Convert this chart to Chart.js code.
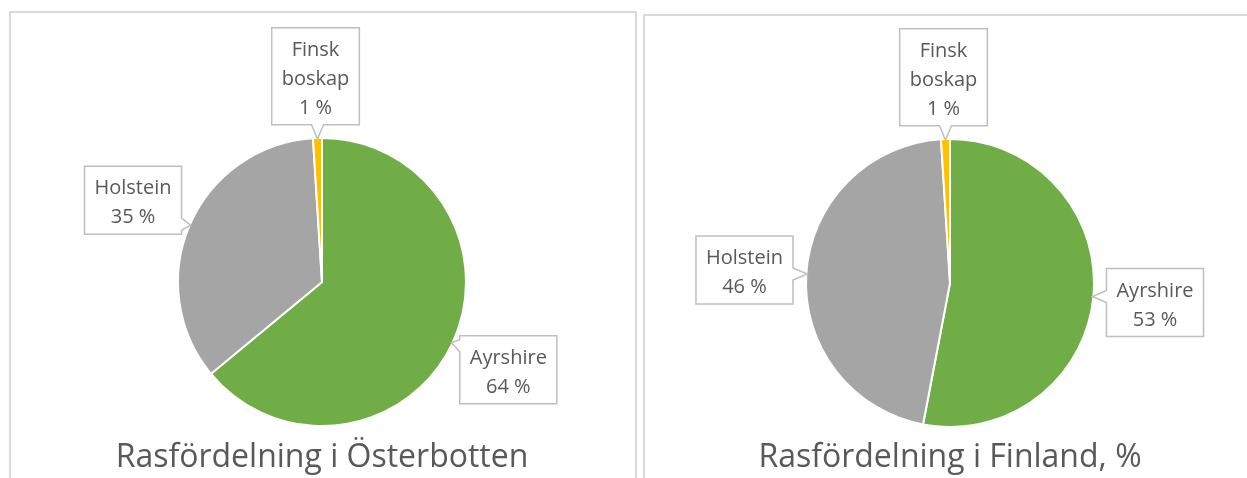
<!DOCTYPE html>
<html>
<head>
<meta charset="utf-8">
<script src="https://cdn.jsdelivr.net/npm/chart.js@4"></script>
<style>
  html, body { margin: 0; padding: 0; background: #fff; overflow: hidden; }
  body { width: 1247px; height: 478px; position: relative; }
  .frame { position: absolute; border: 2px solid #D9D9D9; box-sizing: border-box; }
  canvas { position: absolute; }
</style>
</head>
<body>
<div class="frame" style="left:9px;top:11px;width:628px;height:480px"></div>
<div class="frame" style="left:643px;top:14px;width:620px;height:480px"></div>
<canvas id="chart-ob" width="626" height="466" style="left:10px;top:12px"></canvas>
<canvas id="chart-fi" width="603" height="463" style="left:644px;top:15px"></canvas>
<script>
'use strict';

// Data (share of cows, %)
const breeds           = ['Ayrshire', 'Holstein', 'Finsk boskap'];
const osterbottenShare = [64, 35, 1];
const finlandShare     = [53, 46, 1];
const chartTitles      = ['Rasfördelning i Österbotten', 'Rasfördelning i Finland, %'];

const sliceColors = ['#70AD47', '#A5A5A5', '#FFC000'];
const TEXT_COLOR  = '#595959';
const FONT        = '"Open Sans", "Noto Sans", sans-serif';

/* ── Excel-style callout labels ───────────────────────────────── */
function calloutPath(ctx, l, t, r, b, side, p, tip, hw) {
  ctx.beginPath();
  ctx.moveTo(l, t);
  if (side === 'top')    { ctx.lineTo(p - hw, t); ctx.lineTo(tip.x, tip.y); ctx.lineTo(p + hw, t); }
  ctx.lineTo(r, t);
  if (side === 'right')  { ctx.lineTo(r, p - hw); ctx.lineTo(tip.x, tip.y); ctx.lineTo(r, p + hw); }
  ctx.lineTo(r, b);
  if (side === 'bottom') { ctx.lineTo(p + hw, b); ctx.lineTo(tip.x, tip.y); ctx.lineTo(p - hw, b); }
  ctx.lineTo(l, b);
  if (side === 'left')   { ctx.lineTo(l, p + hw); ctx.lineTo(tip.x, tip.y); ctx.lineTo(l, p - hw); }
  ctx.closePath();
}

const calloutPlugin = {
  id: 'callouts',
  afterDatasetsDraw(chart, args, opts) {
    const ctx    = chart.ctx;
    const meta   = chart.getDatasetMeta(0);
    const values = chart.data.datasets[0].data;
    const lineH  = opts.lineHeight;

    ctx.save();
    ctx.font = `${opts.fontSize}px ${FONT}`;
    ctx.textAlign = 'center';
    ctx.textBaseline = 'middle';

    meta.data.forEach((arc, i) => {
      const { x, y, startAngle, endAngle, outerRadius } =
        arc.getProps(['x', 'y', 'startAngle', 'endAngle', 'outerRadius'], true);
      const mid = (startAngle + endAngle) / 2;
      const tip = { x: x + Math.cos(mid) * (outerRadius - 1), y: y + Math.sin(mid) * (outerRadius - 1) };
      const cx  = x + Math.cos(mid) * outerRadius * opts.distance;
      const cy  = y + Math.sin(mid) * outerRadius * opts.distance;

      // wrap long category names onto separate lines
      const name  = chart.data.labels[i];
      const lines = ctx.measureText(name).width > opts.maxTextWidth ? name.split(' ') : [name];
      lines.push(`${Math.round(values[i])} %`);

      const textW = Math.max(...lines.map(s => ctx.measureText(s).width));
      const w = textW + opts.padX * 2;
      const h = lines.length * lineH + opts.padY * 2;
      const l = cx - w / 2, r = cx + w / 2, t = cy - h / 2, b = cy + h / 2;

      let side, p;
      if (tip.y > b)      { side = 'bottom'; p = tip.x; }
      else if (tip.y < t) { side = 'top';    p = tip.x; }
      else if (tip.x < l) { side = 'left';   p = tip.y; }
      else                { side = 'right';  p = tip.y; }
      const lo = (side === 'top' || side === 'bottom') ? l : t;
      const hi = (side === 'top' || side === 'bottom') ? r : b;
      p = Math.min(Math.max(p, lo + 10), hi - 10);

      calloutPath(ctx, l, t, r, b, side, p, tip, 6);
      ctx.fillStyle = '#fff';
      ctx.fill();
      ctx.lineWidth = 1.5;
      ctx.strokeStyle = '#BFBFBF';
      ctx.stroke();

      ctx.fillStyle = TEXT_COLOR;
      lines.forEach((s, k) => {
        ctx.fillText(s, cx, t + opts.padY + lineH * (k + 0.5) + 3);
      });
    });
    ctx.restore();
  },
};

/* ── PIE FACTORY ──────────────────────────────────────────────── */
function makePie(id, values, title, padding, titlePad) {
  return new Chart(document.getElementById(id), {
    type: 'pie',
    data: {
      labels: breeds,
      datasets: [{
        data: values,
        backgroundColor: sliceColors,
        borderColor: '#ffffff',
        borderWidth: 2,
      }],
    },
    options: {
      responsive: false,
      animation: false,
      radius: 144,
      layout: { padding },
      plugins: {
        legend: { display: false },
        tooltip: { enabled: false },
        title: {
          display: true,
          position: 'bottom',
          text: title,
          color: TEXT_COLOR,
          font: { family: FONT, size: 32, weight: 'normal', lineHeight: 1.2 },
          padding: titlePad,
        },
        callouts: {
          distance: 1.43,
          fontSize: 20,
          lineHeight: 29,
          padX: 10,
          padY: 5,
          maxTextWidth: 95,
        },
      },
    },
    plugins: [calloutPlugin],
  });
}

makePie('chart-ob', osterbottenShare, chartTitles[0],
  { top: 113.4, left: 0, right: 2, bottom: 0 }, { top: 0, bottom: 1 });
makePie('chart-fi', finlandShare, chartTitles[1],
  { top: 112.4, left: 9, right: 0, bottom: 0 }, { top: 0, bottom: 1 });
</script>
</body>
</html>
